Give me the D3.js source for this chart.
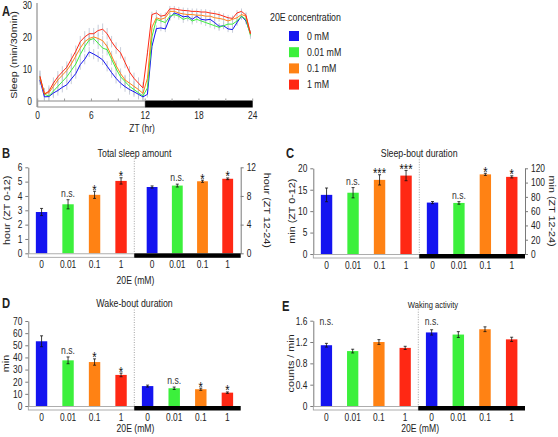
<!DOCTYPE html>
<html><head><meta charset="utf-8">
<script src="https://cdn.jsdelivr.net/npm/d3@7"></script>
<style>
body{margin:0;background:#fff;}
svg{font-family:"Liberation Sans",Arial,sans-serif;}
</style></head><body>
<svg id="c" width="558" height="437"></svg>
<script>
// ---------- DATA ----------
const concentrations = ["0","0.01","0.1","1"];
const legendLabels = ["0 mM","0.01 mM","0.1 mM","1 mM"];
const colors = ["#1414f0","#3cf03c","#ff8214","#ff2814"];

// Panel A: sleep per 30-min bin (ZT bin centres)
const ztBins = [0.25,0.75,1.25,1.75,2.25,2.75,3.25,3.75,4.25,4.75,5.25,5.75,6.25,6.75,7.25,7.75,8.25,8.75,9.25,9.75,10.25,10.75,11.25,11.75,
                12.25,12.75,13.25,13.75,14.25,14.75,15.25,15.75,16.25,16.75,17.25,17.75,18.25,18.75,19.25,19.75,20.25,20.75,21.25,21.75,22.25,22.75,23.25,23.75];
const sleep0mM   = [6.5,1.2,1.3,2.4,3.2,4.2,5.0,6.8,8.5,11.3,13.0,15.3,14.6,13.8,12.8,10.8,8.8,7.0,5.5,4.4,3.5,2.8,2.0,1.2,
                    2.0,17.0,22.6,22.8,22.5,26.0,27.5,27.0,26.3,26.5,25.5,26.5,25.5,25.3,25.5,24.5,23.3,23.5,22.5,22.3,24.5,26.5,25.0,21.0];
const sleep001mM = [7.5,2.0,1.5,3.0,4.5,6.0,7.5,9.5,11.5,14.5,17.0,19.0,19.5,18.0,16.5,16.0,13.0,10.0,7.5,6.0,4.5,3.5,2.5,1.5,
                    4.0,20.0,25.5,25.0,24.5,26.5,27.0,26.5,25.5,26.0,25.0,25.5,25.0,24.5,24.0,23.5,23.0,23.5,24.0,24.0,25.0,26.5,25.5,20.5];
const sleep01mM  = [7.0,2.3,2.5,4.5,6.5,8.0,9.5,11.5,14.0,16.5,18.5,19.5,20.0,19.5,18.8,17.0,14.0,11.0,8.5,6.5,5.5,4.5,3.5,2.3,
                    7.0,23.0,26.0,25.5,26.0,28.0,28.0,27.5,27.2,27.0,27.0,26.8,26.8,26.5,26.5,26.0,25.8,25.5,25.0,25.5,26.0,27.0,26.5,21.0];
const sleep1mM   = [7.7,2.0,3.0,5.5,7.5,9.0,10.5,13.0,15.5,18.5,20.0,21.0,21.0,22.0,22.4,21.0,18.5,16.5,15.0,12.0,9.0,7.0,5.5,4.0,
                    15.0,27.0,27.5,26.5,26.8,28.8,28.8,28.5,28.3,28.2,28.0,28.0,27.8,27.8,27.5,27.3,27.0,26.5,26.0,25.8,27.5,28.0,26.8,21.0];
const semDayA   = [1.6,1.8,1.6,1.8];
const semNightA = [1.0,1.1,1.0,0.9];
const xTicksA = [0,6,12,18,24];
const yTicksA = [0,10,20,30];

// Panel B: total sleep amount
const totalSleepDay      = [2.88,3.42,4.08,5.05];
const totalSleepDayErr   = [0.25,0.32,0.25,0.22];
const totalSleepNight    = [9.25,9.45,10.05,10.4];
const totalSleepNightErr = [0.15,0.2,0.15,0.12];
const totalSleepDaySig   = ["","n.s.","*","*"];
const totalSleepNightSig = ["","n.s.","*","*"];
const bLeftTicks = [0,1,2,3,4,5,6];
const bRightTicks = [0,4,8,12];

// Panel C: sleep-bout duration
const sleepBoutDay      = [13.8,14.3,17.3,18.3];
const sleepBoutDayErr   = [1.6,1.2,1.2,1.2];
const sleepBoutNight    = [72,71.5,111.5,108];
const sleepBoutNightErr = [1.5,1.8,1.5,1.5];
const sleepBoutDaySig   = ["","n.s.","***","***"];
const sleepBoutNightSig = ["","n.s.","*","*"];
const cLeftTicks = [0,5,10,15,20];
const cRightTicks = [0,20,40,60,80,100,120];

// Panel D: wake-bout duration
const wakeBoutDay      = [53.3,37.6,36.2,25.6];
const wakeBoutDayErr   = [4.5,2.8,2.6,1.5];
const wakeBoutNight    = [16.4,14.6,13.8,11.0];
const wakeBoutNightErr = [0.8,1.0,0.9,0.6];
const wakeBoutDaySig   = ["","n.s.","*","*"];
const wakeBoutNightSig = ["","n.s.","*","*"];
const dTicks = [0,10,20,30,40,50,60,70];

// Panel E: waking activity
const wakingDay      = [1.14,1.03,1.2,1.09];
const wakingDayErr   = [0.035,0.035,0.045,0.03];
const wakingNight    = [1.38,1.34,1.44,1.25];
const wakingNightErr = [0.05,0.055,0.045,0.04];
const wakingDaySig   = ["n.s.","","",""];
const wakingNightSig = ["n.s.","","",""];
const eTicks = [0,0.4,0.8,1.2,1.6];

// ---------- DRAW ----------
const svg = d3.select("#c");
const AX = "#7a7a7a", TXT = "#222", SX = 0.8;

function txt(g, x, y, s, o = {}) {
  const wrap = g.append("g")
    .attr("transform", `translate(${x},${y}) scale(${SX},1)` + (o.rotate !== undefined ? ` rotate(${o.rotate})` : ""));
  const t = wrap.append("text").attr("x", 0).attr("y", 0).text(s)
    .attr("font-size", o.size || 10.5).attr("fill", o.fill || TXT)
    .attr("text-anchor", o.anchor || "start");
  if (o.bold) t.attr("font-weight", "bold");
  return t;
}
function styleAxis(g, size) {
  g.selectAll("path.domain").attr("stroke", AX).attr("stroke-width", 1);
  g.selectAll(".tick line").attr("stroke", AX);
  g.selectAll(".tick text").attr("fill", TXT).attr("font-size", size || 10)
    .attr("font-family", '"Liberation Sans",Arial,sans-serif')
    .attr("transform", function () {
      const x = +this.getAttribute("x") || 0;
      return `translate(${x},0) scale(${SX},1) translate(${-x},0)`;
    });
}

// ----- Panel A -----
(function () {
  const series = [sleep0mM, sleep001mM, sleep01mM, sleep1mM];
  const xA = d3.scaleLinear().domain([0, 24]).range([37.7, 252.7]);
  const yA = d3.scaleLinear().domain([0, 30]).range([100.7, 5]);
  const g = svg.append("g");
  txt(g, 2, 16, "A", {size: 14, bold: true});
  // error bars
  series.forEach((s, k) => {
    g.append("g").selectAll("line").data(s).join("line")
      .attr("x1", (d, i) => xA(ztBins[i])).attr("x2", (d, i) => xA(ztBins[i]))
      .attr("y1", (d, i) => yA(d + (ztBins[i] < 12 ? semDayA[k] : semNightA[k])))
      .attr("y2", (d, i) => yA(Math.max(0, d - (ztBins[i] < 12 ? semDayA[k] : semNightA[k]))))
      .attr("stroke", "#bcc3d2").attr("stroke-width", 1).attr("opacity", 0.8);
  });
  const line = d3.line().x((d, i) => xA(ztBins[i])).y(d => yA(d));
  series.forEach((s, k) => {
    g.append("path").datum(s).attr("d", line).attr("fill", "none")
      .attr("stroke", colors[k]).attr("stroke-width", 1);
  });
  // y axis
  const ya = g.append("g").attr("transform", "translate(37,0)")
    .call(d3.axisLeft(yA).tickValues(yTicksA).tickSize(0).tickPadding(5));
  ya.select("path.domain").attr("d", "M0,3V107");
  styleAxis(ya, 10.5);
  // light/dark bar
  g.append("rect").attr("x", xA(0)).attr("y", 101).attr("width", xA(12) - xA(0)).attr("height", 6)
    .attr("fill", "#fff").attr("stroke", "#8a8a8a").attr("stroke-width", 1);
  g.append("rect").attr("x", xA(12)).attr("y", 100.5).attr("width", xA(24) - xA(12)).attr("height", 7)
    .attr("fill", "#000");
  g.append("g").selectAll("line").data(d3.range(0, 25, 3)).join("line")
    .attr("x1", d => xA(d)).attr("x2", d => xA(d)).attr("y1", 101).attr("y2", 98.5)
    .attr("stroke", "#999");
  xTicksA.forEach(d => txt(g, xA(d), 118.5, String(d), {anchor: "middle", size: 10.5}));
  txt(g, 142, 131.5, "ZT (hr)", {anchor: "middle", size: 10.5});
  txt(g, 16.5, 55, "Sleep (min/30min)", {anchor: "middle", size: 10.8, rotate: -90});
  // legend
  txt(g, 270, 20.5, "20E concentration", {size: 11});
  legendLabels.forEach((l, k) => {
    g.append("rect").attr("x", 289).attr("y", 31 + k * 16.2).attr("width", 10).attr("height", 10).attr("fill", colors[k]);
    txt(g, 307, 39.5 + k * 16.2, l, {size: 11});
  });
})();

// ----- Bar panels -----
function barPanel(p) {
  const g = svg.append("g");
  const yL = d3.scaleLinear().domain([0, p.leftMax]).range([p.base, p.top]);
  const yR = p.rightMax ? d3.scaleLinear().domain([0, p.rightMax]).range([p.base, p.top]) : yL;
  const xDay = d3.scaleBand().domain(concentrations).range([p.x0, p.xDiv]).paddingInner(0.57).paddingOuter(0.285);
  const xNight = d3.scaleBand().domain(concentrations).range(p.nightRange).paddingInner(0.57).paddingOuter(0.285);
  txt(g, p.letterX, p.letterY, p.letter, {size: 14, bold: true});
  txt(g, p.titleX || (p.x0 + p.x1) / 2, p.titleY, p.title, {anchor: "middle", size: p.titleSize || 11});
  // divider
  g.append("line").attr("x1", p.xDiv).attr("x2", p.xDiv).attr("y1", p.top - 14).attr("y2", p.base)
    .attr("stroke", "#8a8a8a").attr("stroke-dasharray", "1,1.5").attr("stroke-width", 0.8);
  function bars(xs, ys, vals, errs, sig) {
    g.append("g").selectAll("rect").data(vals).join("rect")
      .attr("x", (d, i) => xs(concentrations[i])).attr("width", xs.bandwidth())
      .attr("y", d => ys(d)).attr("height", d => p.base - ys(d))
      .attr("fill", (d, i) => colors[i]);
    const eg = g.append("g").attr("stroke", "#111").attr("stroke-width", 0.8);
    vals.forEach((d, i) => {
      const cx = xs(concentrations[i]) + xs.bandwidth() / 2;
      const y1 = ys(d + errs[i]), y2 = ys(d - errs[i]);
      eg.append("line").attr("x1", cx).attr("x2", cx).attr("y1", y1).attr("y2", y2);
      eg.append("line").attr("x1", cx - 1.5).attr("x2", cx + 1.5).attr("y1", y1).attr("y2", y1);
      eg.append("line").attr("x1", cx - 1.5).attr("x2", cx + 1.5).attr("y1", y2).attr("y2", y2);
      const s = sig[i];
      if (s) {
        const star = s.indexOf("*") >= 0;
        const yy = p.sigTop ? p.top + 4 : (star ? y1 + 3.5 : y1 - 3);
        txt(g, cx, yy, s, {anchor: "middle", size: star ? 14 : 10.8, fill: star ? "#111" : "#333"});
      }
    });
    concentrations.forEach(d => txt(g, xs(d) + xs.bandwidth() / 2, p.base + 15, d, {anchor: "middle", size: 10.5}));
  }
  bars(xDay, yL, p.dayVals, p.dayErr, p.daySig);
  bars(xNight, yR, p.nightVals, p.nightErr, p.nightSig);
  // axes
  const fmt = p.fmt || (d => d);
  const la = g.append("g").attr("transform", `translate(${p.x0},0)`)
    .call(d3.axisLeft(yL).tickValues(p.leftTicks).tickSize(3).tickSizeOuter(0).tickPadding(3).tickFormat(fmt));
  styleAxis(la, 10.5);
  if (p.rightMax) {
    const ra = g.append("g").attr("transform", `translate(${p.x1},0)`)
      .call(d3.axisRight(yR).tickValues(p.rightTicks).tickSize(3).tickSizeOuter(0).tickPadding(3));
    styleAxis(ra, 10.5);
    txt(g, p.rightLabelX, (p.base + p.top) / 2, p.rightLabel, {anchor: "middle", size: 10.8, rotate: 90});
  }
  txt(g, p.leftLabelX, (p.base + p.top) / 2 + (p.leftLabelDy || 0), p.leftLabel, {anchor: "middle", size: 10.8, rotate: -90});
  // light/dark strip
  g.append("rect").attr("x", p.x0).attr("y", p.base + 0.5).attr("width", p.xDiv - p.x0).attr("height", 3.5)
    .attr("fill", "#fff").attr("stroke", "#9a9a9a").attr("stroke-width", 0.8);
  g.append("rect").attr("x", p.xDiv).attr("y", p.base).attr("width", p.x1 - p.xDiv).attr("height", 4.5)
    .attr("fill", "#000");
  if (p.xLabelY) txt(g, (p.x0 + p.x1) / 2 + 1, p.xLabelY, "20E (mM)", {anchor: "middle", size: 10.8});
}

barPanel({letter: "B", letterX: 2, letterY: 158, title: "Total sleep amount", titleY: 156.5,
  x0: 28.3, xDiv: 134.3, x1: 240.7, nightRange: [139.5, 240.3], base: 253.3, top: 167.3,
  leftMax: 6, leftTicks: bLeftTicks, rightMax: 12, rightTicks: bRightTicks,
  dayVals: totalSleepDay, dayErr: totalSleepDayErr, daySig: totalSleepDaySig,
  nightVals: totalSleepNight, nightErr: totalSleepNightErr, nightSig: totalSleepNightSig,
  leftLabel: "hour (ZT 0-12)", leftLabelX: 10, rightLabel: "hour (ZT 12-24)", rightLabelX: 263.5,
  xLabelY: 284});

barPanel({letter: "C", letterX: 286, letterY: 158, title: "Sleep-bout duration", titleY: 156.5,
  x0: 313.3, xDiv: 419.3, x1: 525, nightRange: [419.3, 525], base: 254, top: 168.3,
  leftMax: 20, leftTicks: cLeftTicks, rightMax: 120, rightTicks: cRightTicks,
  dayVals: sleepBoutDay, dayErr: sleepBoutDayErr, daySig: sleepBoutDaySig,
  nightVals: sleepBoutNight, nightErr: sleepBoutNightErr, nightSig: sleepBoutNightSig,
  leftLabel: "min (ZT 0-12)", leftLabelX: 295, rightLabel: "min (ZT 12-24)", rightLabelX: 548.5});

barPanel({letter: "D", letterX: 2, letterY: 308, title: "Wake-bout duration", titleY: 307,
  x0: 28.3, xDiv: 134.3, x1: 240.7, nightRange: [134.3, 240.7], base: 406, top: 321,
  leftMax: 70, leftTicks: dTicks,
  dayVals: wakeBoutDay, dayErr: wakeBoutDayErr, daySig: wakeBoutDaySig,
  nightVals: wakeBoutNight, nightErr: wakeBoutNightErr, nightSig: wakeBoutNightSig,
  leftLabel: "min", leftLabelX: 8.5, leftLabelDy: 0, xLabelY: 432});

barPanel({letter: "E", letterX: 282, letterY: 311, title: "Waking activity", titleX: 433, titleY: 307.5, titleSize: 9.5,
  x0: 313.3, xDiv: 418.3, x1: 525, nightRange: [418.3, 525], base: 406, top: 320.7,
  leftMax: 1.6, leftTicks: eTicks, fmt: d => d === 0 ? "0" : d3.format(".1f")(d), sigTop: true,
  dayVals: wakingDay, dayErr: wakingDayErr, daySig: wakingDaySig,
  nightVals: wakingNight, nightErr: wakingNightErr, nightSig: wakingNightSig,
  leftLabel: "counts / min", leftLabelX: 293.5, xLabelY: 432});
</script>
</body></html>
